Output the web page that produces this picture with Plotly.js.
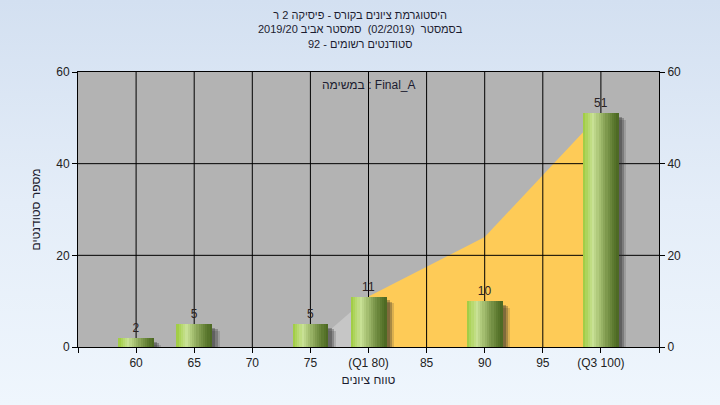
<!DOCTYPE html>
<html>
<head>
<meta charset="utf-8">
<script src="https://cdn.plot.ly/plotly-3.0.1.min.js"></script>
<style>
  html, body { margin: 0; padding: 0; width: 720px; height: 405px; overflow: hidden;
    background: linear-gradient(to bottom, #d3e0f1 0%, #e4edf8 50%, #eff6fd 100%); }
  #chart { width: 720px; height: 405px; }
</style>
</head>
<body>
<div id="chart"></div>
<script>
// ---- data ----
const barCategories = [60, 65, 75, 80, 90, 100];
const barCounts = [2, 5, 5, 11, 10, 51];
const outerAreaX = [75, 80];
const outerAreaY = [0, 11];
const quartileAreaX = [80, 90, 100];
const quartileAreaY = [11, 24, 51];
const xTickVals = [55, 60, 65, 70, 75, 80, 85, 90, 95, 100, 105];
const xTickText = ['', '60', '65', '70', '75', '(Q1 80)', '85', '90', '95', '(Q3 100)', ''];
const yTickVals = [0, 20, 40, 60];
const RLE = '\u202B', PDF = '\u202C';
const titleLines = [
  'היסטוגרמת ציונים בקורס - פיסיקה 2 ר',
  'בסמסטר  (02/2019)  סמסטר אביב 2019/20',
  'סטודנטים רשומים - 92'
];
const xTitle = 'טווח ציונים';
const yTitle = 'מספר סטודנטים';
const legendText = 'Final_A : במשימה';

// ---- styling helpers ----
const FONT = 'Liberation Sans, Arial, sans-serif';
const barWidth = 3.05;
const stops = [
  [0.00, [157, 202, 60]],
  [0.12, [178, 215, 101]],
  [0.28, [200, 225, 149]],
  [0.45, [168, 194, 116]],
  [0.65, [127, 154, 78]],
  [0.85, [93, 122, 48]],
  [1.00, [74, 102, 33]]
];
function colorAt(t) {
  for (let i = 0; i < stops.length - 1; i++) {
    const [t0, c0] = stops[i], [t1, c1] = stops[i + 1];
    if (t >= t0 && t <= t1) {
      const f = (t - t0) / (t1 - t0);
      const c = c0.map((v, k) => Math.round(v + (c1[k] - v) * f));
      return 'rgb(' + c.join(',') + ')';
    }
  }
  return 'rgb(74,102,33)';
}

const traces = [];
// areas (main subplot)
traces.push({
  type: 'scatter', x: outerAreaX, y: outerAreaY, mode: 'none', fill: 'tozeroy',
  fillcolor: '#c6c6c6', hoverinfo: 'skip', showlegend: false
});
traces.push({
  type: 'scatter', x: quartileAreaX, y: quartileAreaY, mode: 'none', fill: 'tozeroy',
  fillcolor: '#fecb57', hoverinfo: 'skip', showlegend: false
});
// grid lines drawn above the areas
const gx = [], gy = [];
xTickVals.slice(1, -1).forEach(v => { gx.push(v, v, null); gy.push(yTickVals[0], yTickVals[yTickVals.length - 1], null); });
yTickVals.slice(1, -1).forEach(v => { gx.push(xTickVals[0], xTickVals[xTickVals.length - 1], null); gy.push(v, v, null); });
traces.push({
  type: 'scatter', x: gx, y: gy, mode: 'lines', line: { color: '#000', width: 1 },
  hoverinfo: 'skip', showlegend: false, connectgaps: false
});

// shadows
const shadowLayers = [
  { dx: 0.66, dy: 1.5, a: 0.16 },
  { dx: 0.48, dy: 1.1, a: 0.28 },
  { dx: 0.30, dy: 0.8, a: 0.32 }
];
shadowLayers.forEach(s => {
  traces.push({
    type: 'bar', x: barCategories, y: barCounts.map(v => Math.max(v - s.dy, 0)),
    xaxis: 'x2', yaxis: 'y2', width: barWidth, offset: -barWidth / 2 + s.dx,
    marker: { color: 'rgba(40,40,40,' + s.a + ')', line: { width: 0 } },
    hoverinfo: 'skip', showlegend: false
  });
});
// cylinder stripes
const N = 16;
for (let i = 0; i < N; i++) {
  traces.push({
    type: 'bar', x: barCategories, y: barCounts, xaxis: 'x2', yaxis: 'y2',
    width: barWidth / N + 0.03, offset: -barWidth / 2 + i * barWidth / N,
    marker: { color: colorAt((i + 0.5) / N), line: { width: 0 } },
    hoverinfo: 'skip', showlegend: false
  });
}
// value labels
traces.push({
  type: 'bar', x: barCategories, y: barCounts, xaxis: 'x2', yaxis: 'y2',
  width: barWidth, offset: -barWidth / 2,
  marker: { color: 'rgba(0,0,0,0)', line: { width: 0 } },
  text: barCounts.map(String), textposition: 'outside', cliponaxis: false,
  textfont: { family: FONT, size: 12, color: '#2a2222' },
  hoverinfo: 'skip', showlegend: false
});

const axisCommon = {
  range: [55, 105], showgrid: false, zeroline: false, fixedrange: true
};
const annotations = [{
  xref: 'paper', yref: 'paper', x: 0.5 - 8 / 581, y: 1, yanchor: 'middle', yshift: 43,
  text: titleLines.map(t => RLE + t + PDF).join('<br>'), showarrow: false,
  font: { family: FONT, size: 11, color: '#1c1c30' }
}];
annotations.push({
  xref: 'paper', yref: 'paper', x: 0.5, y: 1, yanchor: 'top', yshift: -4,
  text: RLE + legendText + PDF, showarrow: false,
  font: { family: FONT, size: 12, color: '#1c1c30' }
});
annotations.push({
  xref: 'paper', yref: 'paper', x: 0, y: 0.5, xanchor: 'center', yanchor: 'middle',
  xshift: -43, textangle: -90,
  text: RLE + yTitle + PDF, showarrow: false,
  font: { family: FONT, size: 12, color: '#1c1c30' }
});

const layout = {
  width: 720, height: 405,
  margin: { l: 78, r: 61, t: 72, b: 58 },
  paper_bgcolor: 'rgba(0,0,0,0)', plot_bgcolor: '#b3b3b3',
  barmode: 'overlay', bargap: 0,
  font: { family: FONT, size: 12, color: '#222' },
  xaxis: Object.assign({}, axisCommon, {
    tickmode: 'array', tickvals: xTickVals, ticktext: xTickText,
    ticks: 'outside', ticklen: 5, tickcolor: '#000', tickwidth: 1,
    showline: true, linecolor: '#000', linewidth: 1, mirror: true,
    tickfont: { family: FONT, size: 12, color: '#222' },
    title: { text: RLE + xTitle + PDF, font: { family: FONT, size: 12, color: '#1c1c30' }, standoff: 6 }
  }),
  yaxis: {
    range: [0, 60], showgrid: false, zeroline: false, fixedrange: true,
    tickmode: 'array', tickvals: yTickVals,
    ticks: 'outside', ticklen: 5, tickcolor: '#000', tickwidth: 1,
    showline: true, linecolor: '#000', linewidth: 1,
    tickfont: { family: FONT, size: 12, color: '#222' }
  },
  xaxis2: Object.assign({}, axisCommon, { overlaying: 'x', visible: false }),
  yaxis2: {
    range: [0, 60], overlaying: 'y', side: 'right', anchor: 'x2',
    showgrid: false, zeroline: false, fixedrange: true,
    tickmode: 'array', tickvals: yTickVals,
    ticks: 'outside', ticklen: 5, tickcolor: '#000', tickwidth: 1,
    showline: true, linecolor: '#000', linewidth: 1,
    tickfont: { family: FONT, size: 12, color: '#222' }
  },
  annotations: annotations
};

Plotly.newPlot('chart', traces, layout, { displayModeBar: false, staticPlot: true });
</script>
</body>
</html>
